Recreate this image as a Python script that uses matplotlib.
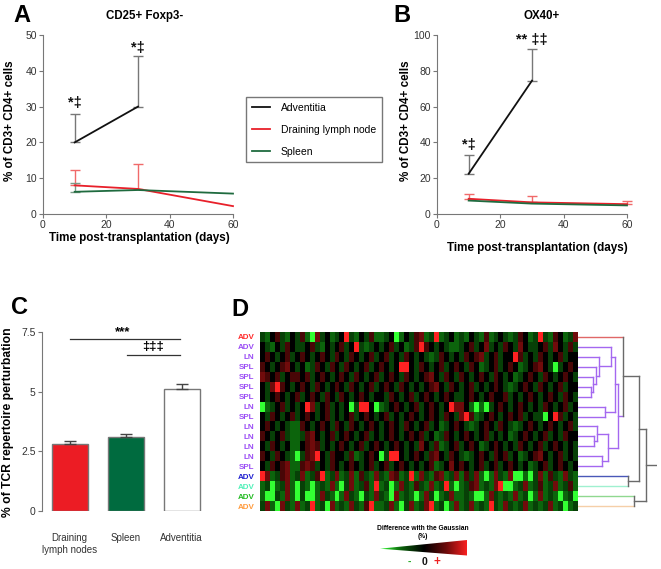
import numpy as np
import matplotlib
matplotlib.use('Agg')
import matplotlib.pyplot as plt
from matplotlib.colors import LinearSegmentedColormap
from matplotlib.patches import Polygon
from matplotlib.lines import Line2D

plt.rcParams['font.family'] = ['Liberation Sans', 'DejaVu Sans']

W, H = 661, 569

# ---- A / B : time course
days = [10, 30, 60]
a_adv = [20, 30]
a_adv_err = [28, 44]
a_ln = [8, 7, 2.2]
a_ln_err = [12.2, 14]
a_spl = [6.2, 6.7, 5.7]
a_spl_err = [8.6]
a_notes = ['*\u2021', '*\u2021']
a_note_y = [31, 46.5]

b_adv = [22.5, 74.5]
b_adv_err = [33, 92]
b_ln = [8.5, 6.5, 5.5]
b_ln_err = [11, 9.8, 7.5]
b_spl = [7.5, 5.8, 4.8]
b_spl_err = []
b_notes = ['*\u2021', '** \u2021\u2021']
b_note_y = [38.5, 97]

legend_labels = ['Adventitia', 'Draining lymph node', 'Spleen']

# ---- C : bars
c_labels = ['Draining\nlymph nodes', 'Spleen', 'Adventitia']
c_vals = [2.8, 3.1, 5.1]
c_err = [0.12, 0.1, 0.22]
c_colors = ['#ec1c24', '#006b3f', '#ffffff']

# ---- D : heatmap (G bright green ... k black ... R bright red)
row_labels = ['ADV', 'ADV', 'LN', 'SPL', 'SPL', 'SPL', 'SPL', 'LN', 'SPL',
              'LN', 'LN', 'LN', 'LN', 'SPL', 'ADV', 'ADV', 'ADV', 'ADV']
label_colors = ['#ff2a2a'] + ['#9a4cf5'] * 13 + ['#1f1fd0', '#4ff0b8', '#22bb22', '#ff9a3c']
line_colors = ['#e06868'] + ['#a468f0'] * 13 + ['#4a58b8', '#9ff0d0', '#90d890', '#f5cfa8']
heat_rows = [
    "dgkmdgkd mgGrdkgd kRdgkdmg gdkGgkdm rgdRgdkg dgkdgmgd kdgdmkgd Rdgmkgdr",
    "kdgkdmkd dkmdgkdk mdkRdgdk dkmdkgdm Rmkdkdgg dkmdkrdk dmkdrkdd kmdrkdmd",
    "kmkdkmdk mkdkmkdm kdmkdkmd kmdkdmkd kdgdmkdk dmkmrdkm dkkRmdkd mkdkmdkk",
    "mkdkmrkd kgdmkdmk dmkdkmdk mkdkRRkd mkdkmdkm kdmkgdkm dkmkgdkm rkdGdkmk",
    "rmkmdkmm kmdkmkdk mkdmkdkm dkmkdmkd kmrkdmkd mkdkmkdm kdkgdkmk dmkdkmkd",
    "kdrRmkdk mkdmkdkm kdmkdkmd kmkdmkdk dkmrkdmk dkmdkdkm kdgdkmkd mkdkmdkk",
    "kdkmkdkm dkmkdmkd mkdkmkdk kdmkdkmd kmkdkmkd dkmkdkmk kmdkdkmk dkmkdmkd",
    "Ggdkmdkd kRrdkmdk dkGdRRkG gdkmkdkm dkmkdkRr rkgGgGdk mkdkmkdk dmkdkmdk",
    "kdmkdkmd kmkdkmdk dkmdkmkd kmdkdkmk dkmkdmkd rRmgdkmk dkmkmdkd dGkRmdkd",
    "kmkdkdgg mkdkmkdm kdmkdkmk dkmkdmkd kmdkgdkm kdgdkmkd mkdgdkmk dkmkdkmd",
    "mkdkmdgg dmrkdkmd kmkdkmdk dkmkdkmk mdkgdmkd kmkdkmdk dkgdkmkd kmdkdmkk",
    "kdmkdkgg kmrmdkdk mkdkmdkm kdkmkdkd rkdmgdkm dkmkgdkm kdkdmkdk mdkmkdkd",
    "mkdmkdgG dmrRkdmk kdmgdkmk GdRRkdkm kdmrkdmk dgdkmkdm kmdkgdkm rkdkmdkd",
    "kdmkmrgg mrmdkdmk dkmkdkmd kmdkmkdk dkmgdkrk mkdkmdkm dkmkdkgd kmdkmkdk",
    "Rrgdmrgd rgdmRgdr gdrgmdgr dgrmgdRg rdgmrgdr gmdrgGgr dgrGGgGd rgmdgrdg",
    "gdGgdrgG dgGgdgrg GdrgdmgR gdGgrdgm dgrgdRgG gdmrgdgr RGGgdrgd mgdrgdmg",
    "gGGdgrgG dGGgrdgG grdgGdgr dgGrgdgG grdGgdrg gdgGGgrd gdgrgdGg rgdgGgdG",
    "drgGrdgr gdRgdGrg dgrdgmRg gdrgGdrg drRgdGgr gdrgdgRd grdgdrgd gdrgdGgd",
]
shade = {'G': -1, 'g': -0.52, 'd': -0.34, 'k': 0, 'm': 0.34, 'r': 0.52, 'R': 1}

# dendrogram merges: (child a, child b, height); leaves are 0..17, new nodes 18..
den_merges = [
    (5, 6, 39), (4, 18, 46), (3, 19, 53), (2, 20, 64), (1, 21, 98),
    (7, 8, 81), (22, 23, 111), (10, 11, 48), (9, 25, 58), (12, 13, 73),
    (26, 27, 91), (24, 28, 121), (0, 29, 134), (14, 15, 151), (30, 31, 184),
    (16, 17, 167), (32, 33, 204),
]

fig = plt.figure(figsize=(W / 100, H / 100), dpi=100)


def add_ax(l, t, r, b):
    return fig.add_axes([l / W, 1 - b / H, (r - l) / W, (b - t) / H])


def ftext(x, y, s, **kw):
    fig.text(x / W, 1 - y / H, s, ha=kw.pop('ha', 'center'), va=kw.pop('va', 'center'), **kw)


def style(ax):
    for sp in ['top', 'right']:
        ax.spines[sp].set_visible(False)
    for sp in ['left', 'bottom']:
        ax.spines[sp].set_color('#777777')
        ax.spines[sp].set_linewidth(0.8)
    ax.tick_params(direction='out', length=3, width=0.8, color='#777777',
                   labelsize=7.5, labelcolor='#333333', pad=1.5)


def time_panel(ax, series, ymax, ystep, notes, note_y):
    for vals, errs, color, ecolor in series:
        ax.plot(days[:len(vals)], vals, color=color, lw=1.3, clip_on=False, zorder=3)
        if errs:
            n = len(errs)
            up = [e - v for e, v in zip(errs, vals[:n])]
            ax.errorbar(days[:n], vals[:n], yerr=[[0] * n, up], fmt='none',
                        ecolor=ecolor, elinewidth=1, capsize=3.5, capthick=1,
                        clip_on=False, zorder=2)
    for i, s in enumerate(notes):
        ax.text(days[i], note_y[i], s, ha='center', va='center',
                fontsize=10.5, fontweight='bold', color='#111111')
    ax.set_xlim(0, 60)
    ax.set_ylim(0, ymax)
    ax.set_xticks([0, 20, 40, 60])
    ax.set_yticks(np.arange(0, ymax + 1, ystep))
    style(ax)


adv_c, ln_c, spl_c = '#111111', '#e8202a', '#1f6b3f'

# ---- panel A
axA = add_ax(43, 35, 233, 214)
time_panel(axA, [(a_adv, a_adv_err, adv_c, '#777777'),
                 (a_ln, a_ln_err, ln_c, '#f06a6a'),
                 (a_spl, a_spl_err, spl_c, '#7a9a86')], 50, 10, a_notes, a_note_y)
ftext(22, 15, 'A', fontsize=17, fontweight='bold')
ftext(145, 16, 'CD25+ Foxp3-', fontsize=8.3, fontweight='bold')
ftext(139, 238, 'Time post-transplantation (days)', fontsize=8.4, fontweight='bold')
ftext(10, 121, '% of CD3+ CD4+ cells', fontsize=8.4, fontweight='bold', rotation=90)

# ---- panel B
axB = add_ax(437, 35, 627, 214)
time_panel(axB, [(b_adv, b_adv_err, adv_c, '#777777'),
                 (b_ln, b_ln_err, ln_c, '#f06a6a'),
                 (b_spl, b_spl_err, spl_c, '#7a9a86')], 100, 20, b_notes, b_note_y)
ftext(402, 15, 'B', fontsize=17, fontweight='bold')
ftext(542, 16, 'OX40+', fontsize=8.3, fontweight='bold')
ftext(537, 248, 'Time post-transplantation (days)', fontsize=8.4, fontweight='bold')
ftext(406, 121, '% of CD3+ CD4+ cells', fontsize=8.4, fontweight='bold', rotation=90)

handles = [Line2D([], [], color=c, lw=1.3) for c in (adv_c, ln_c, spl_c)]
fig.legend(handles, legend_labels, loc='upper left',
           bbox_to_anchor=(246 / W, 1 - 97 / H), frameon=True, fancybox=False,
           edgecolor='#555555', fontsize=7.5, handlelength=1.8,
           handletextpad=1.0, labelspacing=1.15, borderpad=0.55, borderaxespad=0)

# ---- panel C
axC = add_ax(41.7, 332, 209.7, 510.7)
xs = np.arange(len(c_vals))
axC.bar(xs, c_vals, width=0.64, color=c_colors, edgecolor='#777777', linewidth=1)
axC.errorbar(xs, c_vals, yerr=[[0] * 3, c_err], fmt='none', ecolor='#444444',
             elinewidth=1, capsize=4, capthick=1)
axC.set_xlim(-0.5, 2.5)
axC.set_ylim(0, 7.5)
axC.set_yticks([0, 2.5, 5, 7.5])
axC.set_yticklabels(['0', '2.5', '5', '7.5'])
style(axC)
axC.spines['bottom'].set_visible(False)
axC.set_xticks(xs)
axC.set_xticklabels(c_labels)
axC.tick_params(axis='x', length=0, pad=16, labelsize=7, labelcolor='#333333')
axC.plot([0, 1.97], [7.22, 7.22], color='#333333', lw=0.9, clip_on=False)
axC.plot([1.03, 1.97], [6.53, 6.53], color='#333333', lw=0.9, clip_on=False)
axC.text(0.95, 7.5, '***', ha='center', va='center', fontsize=9.5, fontweight='bold')
axC.text(1.49, 6.88, '\u2021\u2021\u2021', ha='center', va='center', fontsize=9.5,
         fontweight='bold')
ftext(20, 308, 'C', fontsize=17, fontweight='bold')
ftext(8.5, 422, '% of TCR repertoire perturbation', fontsize=8.7,
      fontweight='bold', rotation=90)

# ---- panel D
cmap = LinearSegmentedColormap.from_list(
    'gkr', [(0, '#33ff33'), (0.25, '#0b5e0b'), (0.5, '#000000'),
            (0.75, '#6a0a0a'), (1, '#ff2222')])
heat = np.array([[shade[c] for c in row.replace(' ', '')] for row in heat_rows])
axD = add_ax(260, 332, 578, 511)
axD.imshow(heat, cmap=cmap, vmin=-1, vmax=1, aspect='auto', interpolation='nearest')
axD.set_xticks([])
axD.set_yticks(range(len(row_labels)))
axD.set_yticklabels(row_labels, fontsize=5.8, fontweight='bold')
for lab, c in zip(axD.get_yticklabels(), label_colors):
    lab.set_color(c)
axD.tick_params(axis='y', length=0, pad=4)
for sp in axD.spines.values():
    sp.set_visible(False)
ftext(240, 310, 'D', fontsize=17, fontweight='bold')

# dendrogram
axT = add_ax(578, 332, 657, 511)
ypos = {i: i for i in range(len(row_labels))}
xpos = {i: 0 for i in range(len(row_labels))}
lcol = {i: line_colors[i] for i in range(len(row_labels))}
n = len(row_labels)
for k, (a, b, h) in enumerate(den_merges):
    c = '#a468f0' if k < 12 else '#6a6a6a'
    for ch in (a, b):
        axT.plot([xpos[ch], h], [ypos[ch], ypos[ch]], color=lcol[ch], lw=1)
    axT.plot([h, h], [ypos[a], ypos[b]], color=c, lw=1)
    ypos[n], xpos[n], lcol[n] = (ypos[a] + ypos[b]) / 2, h, c
    n += 1
axT.plot([xpos[n - 1], 237], [ypos[n - 1]] * 2, color='#6a6a6a', lw=1)
axT.set_xlim(0, 237)
axT.set_ylim(len(row_labels) - 0.5, -0.5)
axT.axis('off')

# colour key wedge
wax = add_ax(380, 540, 467, 555.5)
im = wax.imshow(np.linspace(-1, 1, 256)[None, :], cmap=cmap, aspect='auto',
                extent=(0, 1, 0, 1))
wedge = Polygon([(0, 0.44), (1, 1), (1, 0)], transform=wax.transData)
im.set_clip_path(wedge)
wax.set_xlim(0, 1)
wax.set_ylim(0, 1)
wax.axis('off')
ftext(423, 529, 'Difference with the Gaussian', fontsize=4.8, fontweight='bold')
ftext(423, 536.5, '(%)', fontsize=4.8, fontweight='bold')
ftext(409, 562, '-', fontsize=7.5, fontweight='bold', color='#22aa22')
ftext(425, 562, '0', fontsize=7.5, fontweight='bold', color='#111111')
ftext(437, 562, '+', fontsize=8.5, fontweight='bold', color='#ee2222')

fig.savefig('out.png', dpi=100)
